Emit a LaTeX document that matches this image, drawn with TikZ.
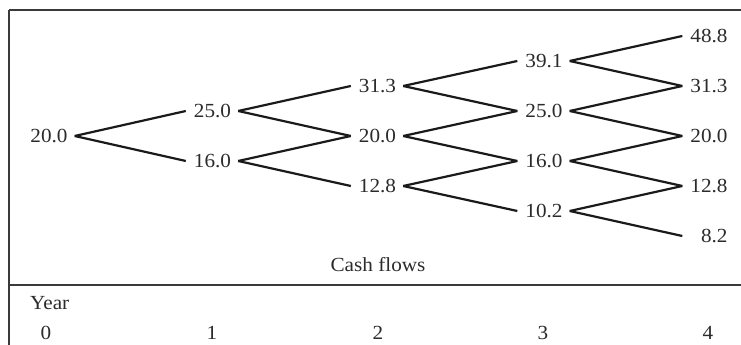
\documentclass[tikz,border=0pt]{standalone}
\usepackage{fontspec}
\setmainfont{Liberation Serif}[FakeStretch=1.06]
\definecolor{txt}{HTML}{2B2B2B}
\definecolor{ln}{HTML}{1A1A1A}
\definecolor{frm}{HTML}{3A3A3A}
\begin{document}
\begin{tikzpicture}[x=1pt,y=1pt,
  val/.style={text width=38pt, align=right, inner xsep=7pt, inner ysep=0pt,
    text height=14pt, text depth=0pt, font=\fontsize{20}{24}\selectfont, text=txt},
  lbl/.style={inner sep=0pt, font=\fontsize{20}{24}\selectfont, text=txt},
  edge/.style={line width=2.2pt, draw=ln},
  frame/.style={line width=1.4pt, draw=frm}]
\useasboundingbox (0,0) rectangle (741,345);
% frame
\draw[frame] (9,335) -- (741,335);
\draw[frame] (9,335) -- (9,0);
\draw[frame, line width=1.8pt] (9,60) -- (741,60);
% level 0
\node[val] (n00) at (48.5,209) {20.0};
% level 1
\node[val] (n10) at (212,234) {25.0};
\node[val] (n11) at (212,184) {16.0};
% level 2
\node[val] (n20) at (377,259) {31.3};
\node[val] (n21) at (377,209) {20.0};
\node[val] (n22) at (377,159) {12.8};
% level 3
\node[val] (n30) at (543.5,284) {39.1};
\node[val] (n31) at (543.5,234) {25.0};
\node[val] (n32) at (543.5,184) {16.0};
\node[val] (n33) at (543.5,134) {10.2};
% level 4
\node[val] (n40) at (708.5,309) {48.8};
\node[val] (n41) at (708.5,259) {31.3};
\node[val] (n42) at (708.5,209) {20.0};
\node[val] (n43) at (708.5,159) {12.8};
\node[val] (n44) at (708.5,109) {8.2};
% edges
\foreach \k/\m in {0/1,1/2,2/3,3/4}{
  \foreach \i in {0,...,\k}{
    \pgfmathtruncatemacro{\j}{\i+1}
    \draw[edge] (n\k\i.east) -- (n\m\i.west);
    \draw[edge] (n\k\i.east) -- (n\m\j.west);
  }
}
% labels
\node[lbl] (cf) at (378,80) {Cash flows};
\node[lbl, anchor=west] (yr) at (30,42) {Year};
\node[lbl] (y0) at (46,12) {0};
\node[lbl] (y1) at (212,12) {1};
\node[lbl] (y2) at (378,12) {2};
\node[lbl] (y3) at (543,12) {3};
\node[lbl] (y4) at (708,12) {4};
\end{tikzpicture}
\end{document}
